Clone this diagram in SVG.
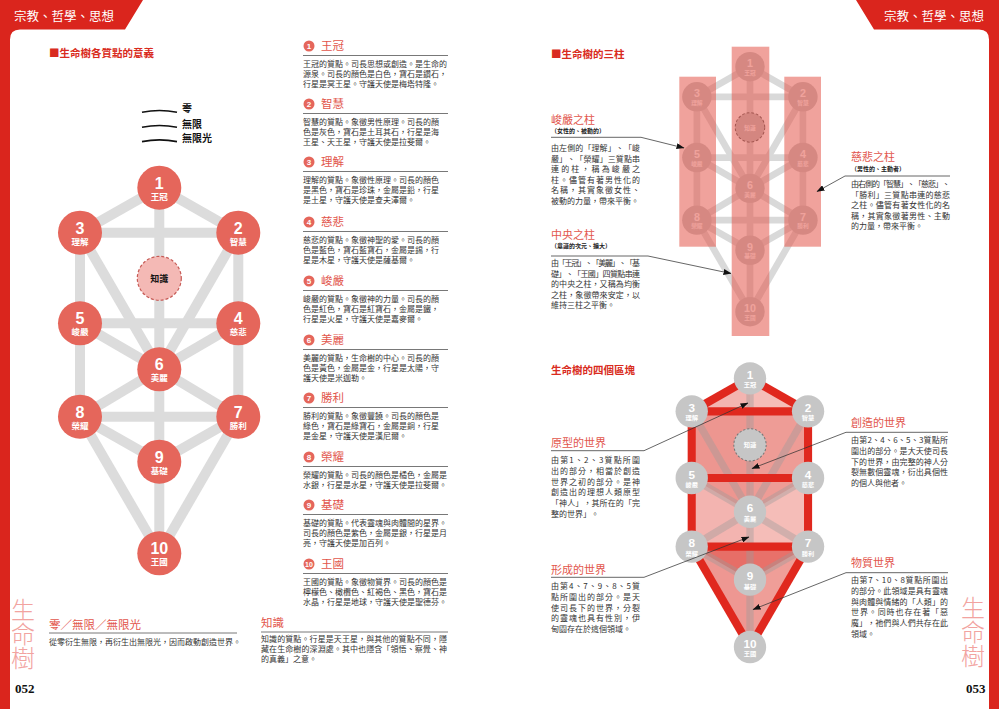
<svg xmlns="http://www.w3.org/2000/svg" width="999" height="709" viewBox="0 0 999 709">
<defs>
<style>
.cjk{font-family:'Noto Sans CJK TC','Noto Sans CJK JP',sans-serif}
.tab{font-size:12.5px;fill:#fff}
.ttl{font-size:10.5px;font-weight:700;fill:#d92b20}
.sec{font-size:11.5px;fill:#e2564c}
.rh{font-size:11px;fill:#e2564c}
.body{font-size:8px;fill:#333}
.sub{font-size:6px;font-weight:700;fill:#222}
.num{font-family:'Liberation Sans',Arial,sans-serif;font-weight:700;fill:#fff;text-anchor:middle}
.lbl{font-family:'Noto Sans CJK TC','Noto Sans CJK JP',sans-serif;font-weight:700;fill:#fff;text-anchor:middle;font-size:8.5px}
.tnum{font-size:16px}
.rule{stroke:#555;stroke-width:0.8;fill:none}
.arrow{stroke:#333;stroke-width:0.75;fill:none;marker-end:url(#ah)}
.gl line{stroke:#dcdcdc;stroke-width:10}
.gl2 line{stroke:#d9d9d9;stroke-width:10}
.inner line{stroke:#9a9a9a;stroke-opacity:0.4;stroke-width:10}
.red line{stroke:#e0281e;stroke-width:11}
.rn{fill:#e5665b}
.gn{fill:#c6c6c6}
.vert{font-size:24px;fill:#f2a3a0;font-weight:300;writing-mode:vertical-rl}
.pg{font-family:'Liberation Serif','Times New Roman',serif;font-weight:700;font-size:13px;fill:#111}
</style>
<marker id="ah" markerWidth="8" markerHeight="6" refX="7.5" refY="3" orient="auto" markerUnits="userSpaceOnUse"><path d="M0,0 L8,3 L0,6 z" fill="#111"/></marker>
</defs>
<rect width="999" height="709" fill="#fff"/>

<!-- page frame -->
<path d="M0,0 H143 L125,29.5 H20 Q10,29.5 10,39.5 V709 H0 Z" fill="#da251d"/>
<path d="M999,0 H856 L874,29.5 H979 Q989,29.5 989,39.5 V709 H999 Z" fill="#da251d"/>
<text class="cjk tab" x="14" y="20.5">宗教、哲學、思想</text>
<text class="cjk tab" x="884" y="20.5">宗教、哲學、思想</text>
<text class="cjk vert" x="23" y="598">生命樹</text>
<text class="cjk vert" x="973" y="596">生命樹</text>
<text class="pg" x="15" y="693">052</text>
<text class="pg" x="966" y="693">053</text>

<!-- left page title -->
<text class="cjk ttl" x="49" y="57">■生命樹各質點的意義</text>

<!-- legend -->
<g id="legend">
<path d="M142,112.3 Q159.5,108.8 177,112.3" stroke="#111" stroke-width="1.6" fill="none"/>
<path d="M142,127.3 Q159.5,123.8 177,127.3" stroke="#111" stroke-width="1.6" fill="none"/>
<path d="M142,141.6 Q159.5,138.1 177,141.6" stroke="#111" stroke-width="1.6" fill="none"/>
<text class="cjk" x="182" y="112" font-size="10" font-weight="700" fill="#111">零</text>
<text class="cjk" x="182" y="127.8" font-size="10" font-weight="700" fill="#111">無限</text>
<text class="cjk" x="182" y="142" font-size="10" font-weight="700" fill="#111">無限光</text>
</g>

<!-- left tree -->
<g id="tree1-connectors" class="gl">
<line x1="159.3" y1="187.7" x2="238.3" y2="232.7"/>
<line x1="159.3" y1="187.7" x2="80" y2="232.7"/>
<line x1="159.3" y1="187.7" x2="159.3" y2="369.3"/>
<line x1="80" y1="232.7" x2="238.3" y2="232.7"/>
<line x1="238.3" y1="232.7" x2="238.3" y2="323.3"/>
<line x1="80" y1="232.7" x2="80" y2="323.3"/>
<line x1="238.3" y1="232.7" x2="159.3" y2="369.3"/>
<line x1="80" y1="232.7" x2="159.3" y2="369.3"/>
<line x1="80" y1="323.3" x2="238.3" y2="323.3"/>
<line x1="238.3" y1="323.3" x2="159.3" y2="369.3"/>
<line x1="80" y1="323.3" x2="159.3" y2="369.3"/>
<line x1="238.3" y1="323.3" x2="238.3" y2="416.7"/>
<line x1="80" y1="323.3" x2="80" y2="416.7"/>
<line x1="159.3" y1="369.3" x2="238.3" y2="416.7"/>
<line x1="159.3" y1="369.3" x2="80" y2="416.7"/>
<line x1="159.3" y1="369.3" x2="159.3" y2="461.7"/>
<line x1="80" y1="416.7" x2="238.3" y2="416.7"/>
<line x1="238.3" y1="416.7" x2="159.3" y2="461.7"/>
<line x1="80" y1="416.7" x2="159.3" y2="461.7"/>
<line x1="238.3" y1="416.7" x2="159.3" y2="553.3"/>
<line x1="80" y1="416.7" x2="159.3" y2="553.3"/>
<line x1="159.3" y1="461.7" x2="159.3" y2="553.3"/>
</g>
<g id="tree1-nodes">
<g id="t1-n1" transform="translate(159.3,187.7)"><circle r="22" class="rn"/><text class="num tnum" y="0.8">1</text><text class="lbl" y="12.2">王冠</text></g>
<g id="t1-n2" transform="translate(238.3,232.7)"><circle r="22" class="rn"/><text class="num tnum" y="0.8">2</text><text class="lbl" y="12.2">智慧</text></g>
<g id="t1-n3" transform="translate(80,232.7)"><circle r="22" class="rn"/><text class="num tnum" y="0.8">3</text><text class="lbl" y="12.2">理解</text></g>
<g id="t1-k" transform="translate(159.3,278.3)"><circle r="22" fill="#f4b9b5" stroke="#c65a55" stroke-width="1.2" stroke-dasharray="3 2"/><text class="cjk" y="3.2" font-size="9" font-weight="700" fill="#111" text-anchor="middle">知識</text></g>
<g id="t1-n4" transform="translate(238.3,323.3)"><circle r="22" class="rn"/><text class="num tnum" y="0.8">4</text><text class="lbl" y="12.2">慈悲</text></g>
<g id="t1-n5" transform="translate(80,323.3)"><circle r="22" class="rn"/><text class="num tnum" y="0.8">5</text><text class="lbl" y="12.2">峻嚴</text></g>
<g id="t1-n6" transform="translate(159.3,369.3)"><circle r="22" class="rn"/><text class="num tnum" y="0.8">6</text><text class="lbl" y="12.2">美麗</text></g>
<g id="t1-n7" transform="translate(238.3,416.7)"><circle r="22" class="rn"/><text class="num tnum" y="0.8">7</text><text class="lbl" y="12.2">勝利</text></g>
<g id="t1-n8" transform="translate(80,416.7)"><circle r="22" class="rn"/><text class="num tnum" y="0.8">8</text><text class="lbl" y="12.2">榮耀</text></g>
<g id="t1-n9" transform="translate(159.3,461.7)"><circle r="22" class="rn"/><text class="num tnum" y="0.8">9</text><text class="lbl" y="12.2">基礎</text></g>
<g id="t1-n10" transform="translate(159.3,553.3)"><circle r="22" class="rn"/><text class="num tnum" y="0.8">10</text><text class="lbl" y="12.2">王國</text></g>
</g>

<!-- middle column descriptions -->
<g id="desc" class="cjk">
<g id="d1"><circle cx="309" cy="46" r="5.5" class="rn"/><text class="num" x="309" y="49" font-size="8">1</text><text class="sec" x="321" y="50.2">王冠</text><line class="rule" x1="303" y1="55.5" x2="448" y2="55.5"/>
<text class="body" x="303" y="66.5">王冠的質點。司長思想或創造。是生命的</text><text class="body" x="303" y="76.8">源泉。司長的顏色是白色，寶石是鑽石，</text><text class="body" x="303" y="87.1">行星是冥王星。守護天使是梅塔特隆。</text></g>
<g id="d2"><circle cx="309" cy="104" r="5.5" class="rn"/><text class="num" x="309" y="107" font-size="8">2</text><text class="sec" x="321" y="108.2">智慧</text><line class="rule" x1="303" y1="113.5" x2="448" y2="113.5"/>
<text class="body" x="303" y="124.5">智慧的質點。象徵男性原理。司長的顏</text><text class="body" x="303" y="134.8">色是灰色，寶石是土耳其石，行星是海</text><text class="body" x="303" y="145.1">王星、天王星，守護天使是拉斐爾。</text></g>
<g id="d3"><circle cx="309" cy="162" r="5.5" class="rn"/><text class="num" x="309" y="165" font-size="8">3</text><text class="sec" x="321" y="166.2">理解</text><line class="rule" x1="303" y1="171.5" x2="448" y2="171.5"/>
<text class="body" x="303" y="182.5">理解的質點。象徵性原理。司長的顏色</text><text class="body" x="303" y="192.8">是黑色，寶石是珍珠，金屬是鉛，行星</text><text class="body" x="303" y="203.1">是土星，守護天使是查夫澤爾。</text></g>
<g id="d4"><circle cx="309" cy="222" r="5.5" class="rn"/><text class="num" x="309" y="225" font-size="8">4</text><text class="sec" x="321" y="226.2">慈悲</text><line class="rule" x1="303" y1="231.5" x2="448" y2="231.5"/>
<text class="body" x="303" y="242.5">慈悲的質點。象徵神聖的愛。司長的顏</text><text class="body" x="303" y="252.8">色是藍色，寶石藍寶石，金屬是錫，行</text><text class="body" x="303" y="263.1">星是木星，守護天使是薩基爾。</text></g>
<g id="d5"><circle cx="309" cy="281" r="5.5" class="rn"/><text class="num" x="309" y="284" font-size="8">5</text><text class="sec" x="321" y="285.2">峻嚴</text><line class="rule" x1="303" y1="290.5" x2="448" y2="290.5"/>
<text class="body" x="303" y="301.5">峻嚴的質點。象徵神的力量。司長的顏</text><text class="body" x="303" y="311.8">色是紅色，寶石是紅寶石，金屬是鐵，</text><text class="body" x="303" y="322.1">行星是火星，守護天使是嘉麥爾。</text></g>
<g id="d6"><circle cx="309" cy="340" r="5.5" class="rn"/><text class="num" x="309" y="343" font-size="8">6</text><text class="sec" x="321" y="344.2">美麗</text><line class="rule" x1="303" y1="349.5" x2="448" y2="349.5"/>
<text class="body" x="303" y="360.5">美麗的質點，生命樹的中心。司長的顏</text><text class="body" x="303" y="370.8">色是黃色，金屬是金，行星是太陽，守</text><text class="body" x="303" y="381.1">護天使是米迦勒。</text></g>
<g id="d7"><circle cx="309" cy="398" r="5.5" class="rn"/><text class="num" x="309" y="401" font-size="8">7</text><text class="sec" x="321" y="402.2">勝利</text><line class="rule" x1="303" y1="407.5" x2="448" y2="407.5"/>
<text class="body" x="303" y="418.5">勝利的質點。象徵豐饒。司長的顏色是</text><text class="body" x="303" y="428.8">綠色，寶石是綠寶石，金屬是銅，行星</text><text class="body" x="303" y="439.1">是金星，守護天使是漢尼爾。</text></g>
<g id="d8"><circle cx="309" cy="457" r="5.5" class="rn"/><text class="num" x="309" y="460" font-size="8">8</text><text class="sec" x="321" y="461.2">榮耀</text><line class="rule" x1="303" y1="466.5" x2="448" y2="466.5"/>
<text class="body" x="303" y="477.5">榮耀的質點。司長的顏色是橘色，金屬是</text><text class="body" x="303" y="487.8">水銀，行星是水星，守護天使是拉斐爾。</text></g>
<g id="d9"><circle cx="309" cy="505" r="5.5" class="rn"/><text class="num" x="309" y="508" font-size="8">9</text><text class="sec" x="321" y="509.2">基礎</text><line class="rule" x1="303" y1="514.5" x2="448" y2="514.5"/>
<text class="body" x="303" y="525.5">基礎的質點。代表靈魂與肉體間的星界。</text><text class="body" x="303" y="535.8">司長的顏色是紫色，金屬是銀，行星是月</text><text class="body" x="303" y="546.1">亮，守護天使是加百列。</text></g>
<g id="d10"><circle cx="309" cy="564" r="5.5" class="rn"/><text class="num" x="309" y="566.8" font-size="7">10</text><text class="sec" x="321" y="568.2">王國</text><line class="rule" x1="303" y1="573.5" x2="448" y2="573.5"/>
<text class="body" x="303" y="584.5">王國的質點。象徵物質界。司長的顏色是</text><text class="body" x="303" y="594.8">檸檬色、橄欖色、紅褐色、黑色，寶石是</text><text class="body" x="303" y="605.1">水晶，行星是地球，守護天使是聖德芬。</text></g>
<g id="dk"><text class="sec" x="261" y="627.2">知識</text><line class="rule" x1="261" y1="632" x2="448" y2="632"/>
<text class="body" x="261" y="641.5" textLength="186" lengthAdjust="spacing">知識的質點。行星是天王星，與其他的質點不同，隱</text><text class="body" x="261" y="651.8" textLength="186" lengthAdjust="spacing">藏在生命樹的深淵處。其中也隱含「領悟、察覺、神</text><text class="body" x="261" y="662.1">的真義」之意。</text></g>
<g id="d0"><text class="sec" x="49" y="629.3" font-size="12.5">零／無限／無限光</text><line class="rule" x1="49" y1="633" x2="237" y2="633"/>
<text class="body" x="49" y="645" font-size="7.5">從零衍生無限，再衍生出無限光，因而啟動創造世界。</text></g>
</g>

<!-- right page: three pillars -->
<text class="cjk ttl" x="551" y="58">■生命樹的三柱</text>
<g id="tree2" transform="translate(643.27,-59.06) scale(0.67)">
<g id="tree2-connectors" class="gl2">
<line x1="159.3" y1="187.7" x2="238.3" y2="232.7"/>
<line x1="159.3" y1="187.7" x2="80" y2="232.7"/>
<line x1="159.3" y1="187.7" x2="159.3" y2="369.3"/>
<line x1="80" y1="232.7" x2="238.3" y2="232.7"/>
<line x1="238.3" y1="232.7" x2="238.3" y2="323.3"/>
<line x1="80" y1="232.7" x2="80" y2="323.3"/>
<line x1="238.3" y1="232.7" x2="159.3" y2="369.3"/>
<line x1="80" y1="232.7" x2="159.3" y2="369.3"/>
<line x1="80" y1="323.3" x2="238.3" y2="323.3"/>
<line x1="238.3" y1="323.3" x2="159.3" y2="369.3"/>
<line x1="80" y1="323.3" x2="159.3" y2="369.3"/>
<line x1="238.3" y1="323.3" x2="238.3" y2="416.7"/>
<line x1="80" y1="323.3" x2="80" y2="416.7"/>
<line x1="159.3" y1="369.3" x2="238.3" y2="416.7"/>
<line x1="159.3" y1="369.3" x2="80" y2="416.7"/>
<line x1="159.3" y1="369.3" x2="159.3" y2="461.7"/>
<line x1="80" y1="416.7" x2="238.3" y2="416.7"/>
<line x1="238.3" y1="416.7" x2="159.3" y2="461.7"/>
<line x1="80" y1="416.7" x2="159.3" y2="461.7"/>
<line x1="238.3" y1="416.7" x2="159.3" y2="553.3"/>
<line x1="80" y1="416.7" x2="159.3" y2="553.3"/>
<line x1="159.3" y1="461.7" x2="159.3" y2="553.3"/>
</g>
<g id="tree2-nodes">
<g id="t2-n1" transform="translate(159.3,187.7)"><circle r="22" class="gn"/><text class="num tnum" y="0.8">1</text><text class="lbl" y="12.2">王冠</text></g>
<g id="t2-n2" transform="translate(238.3,232.7)"><circle r="22" class="gn"/><text class="num tnum" y="0.8">2</text><text class="lbl" y="12.2">智慧</text></g>
<g id="t2-n3" transform="translate(80,232.7)"><circle r="22" class="gn"/><text class="num tnum" y="0.8">3</text><text class="lbl" y="12.2">理解</text></g>
<g id="t2-k" transform="translate(159.3,278.3)"><circle r="22" fill="#c2c2c2" stroke="#555" stroke-width="1.5" stroke-dasharray="4 3"/><text class="lbl" y="3.2">知識</text></g>
<g id="t2-n4" transform="translate(238.3,323.3)"><circle r="22" class="gn"/><text class="num tnum" y="0.8">4</text><text class="lbl" y="12.2">慈悲</text></g>
<g id="t2-n5" transform="translate(80,323.3)"><circle r="22" class="gn"/><text class="num tnum" y="0.8">5</text><text class="lbl" y="12.2">峻嚴</text></g>
<g id="t2-n6" transform="translate(159.3,369.3)"><circle r="22" class="gn"/><text class="num tnum" y="0.8">6</text><text class="lbl" y="12.2">美麗</text></g>
<g id="t2-n7" transform="translate(238.3,416.7)"><circle r="22" class="gn"/><text class="num tnum" y="0.8">7</text><text class="lbl" y="12.2">勝利</text></g>
<g id="t2-n8" transform="translate(80,416.7)"><circle r="22" class="gn"/><text class="num tnum" y="0.8">8</text><text class="lbl" y="12.2">榮耀</text></g>
<g id="t2-n9" transform="translate(159.3,461.7)"><circle r="22" class="gn"/><text class="num tnum" y="0.8">9</text><text class="lbl" y="12.2">基礎</text></g>
<g id="t2-n10" transform="translate(159.3,553.3)"><circle r="22" class="gn"/><text class="num tnum" y="0.8">10</text><text class="lbl" y="12.2">王國</text></g>
</g>
</g>
<g id="pillars" fill="#e4554b" fill-opacity="0.55">
<rect id="pillar-left" x="679.3" y="76.7" width="36.7" height="170"/>
<rect id="pillar-center" x="731.7" y="46.7" width="37.6" height="289.3"/>
<rect id="pillar-right" x="784.3" y="76.7" width="36.7" height="170"/>
</g>

<g id="pillar-texts" class="cjk">
<g id="txt-severity"><text class="rh" x="551" y="124">峻嚴之柱</text><text class="sub" x="551" y="133.2">（女性的、被動的）</text>
<text class="body" x="551" y="151" textLength="89" lengthAdjust="spacing">由左側的「理解」、「峻</text>
<text class="body" x="551" y="161.5" textLength="89" lengthAdjust="spacing">嚴」、「榮耀」三質點串</text>
<text class="body" x="551" y="172" textLength="89" lengthAdjust="spacing">連的柱，稱為峻嚴之</text>
<text class="body" x="551" y="182.5" textLength="89" lengthAdjust="spacing">柱。儘管有著男性化的</text>
<text class="body" x="551" y="193" textLength="89" lengthAdjust="spacing">名稱，其實象徵女性、</text>
<text class="body" x="551" y="203.5">被動的力量，帶來平衡。</text></g>
<g id="txt-middle"><text class="rh" x="551" y="239">中央之柱</text><text class="sub" x="551" y="248.2">（意識的次元、擴大）</text>
<text class="body" x="551" y="266" textLength="89" lengthAdjust="spacing">由「王冠」、「美麗」、「基</text>
<text class="body" x="551" y="276.5" textLength="89" lengthAdjust="spacing">礎」、「王國」四質點串連</text>
<text class="body" x="551" y="287" textLength="89" lengthAdjust="spacing">的中央之柱，又稱為均衡</text>
<text class="body" x="551" y="297.5" textLength="89" lengthAdjust="spacing">之柱，象徵帶來安定，以</text>
<text class="body" x="551" y="308">維持三柱之平衡。</text></g>
<g id="txt-mercy"><text class="rh" x="851" y="161">慈悲之柱</text><text class="sub" x="851" y="171.2">（男性的、主動者）</text>
<text class="body" x="851" y="187" textLength="99" lengthAdjust="spacing">由右側的「智慧」、「慈悲」、</text>
<text class="body" x="851" y="197.5" textLength="99" lengthAdjust="spacing">「勝利」三質點串連的慈悲</text>
<text class="body" x="851" y="208" textLength="99" lengthAdjust="spacing">之柱。儘管有著女性化的名</text>
<text class="body" x="851" y="218.5" textLength="99" lengthAdjust="spacing">稱，其實象徵著男性、主動</text>
<text class="body" x="851" y="229">的力量，帶來平衡。</text></g>
</g>

<!-- right page: four worlds -->
<text class="cjk ttl" x="551" y="373.7">生命樹的四個區塊</text>
<g id="tree3" transform="translate(632.91,240.34) scale(0.735)">
<g id="regions">
<polygon id="region-outline" points="159.3,187.7 238.3,232.7 238.3,416.7 159.3,553.3 80,416.7 80,232.7" fill="#f5bdb8"/>
<polygon id="region-creation" points="80,232.7 238.3,232.7 238.3,323.3 159.3,369.3 80,323.3" fill="#ee9c96"/>
<polygon id="region-material" points="80,416.7 238.3,416.7 159.3,553.3" fill="#ef9e98"/>
<polygon id="region-dark" points="80,416.7 238.3,416.7 159.3,461.7" fill="#e8716a"/>
<polygon points="159.3,187.7 80,232.7 80,416.7 159.3,553.3" fill="#e04a40" fill-opacity="0.07"/>
</g>
<g id="tree3-connectors">
<g class="inner">
<line x1="159.3" y1="187.7" x2="159.3" y2="369.3"/>
<line x1="238.3" y1="232.7" x2="159.3" y2="369.3"/>
<line x1="80" y1="232.7" x2="159.3" y2="369.3"/>
<line x1="238.3" y1="323.3" x2="159.3" y2="369.3"/>
<line x1="80" y1="323.3" x2="159.3" y2="369.3"/>
<line x1="159.3" y1="369.3" x2="238.3" y2="416.7"/>
<line x1="159.3" y1="369.3" x2="80" y2="416.7"/>
<line x1="159.3" y1="369.3" x2="159.3" y2="461.7"/>
<line x1="238.3" y1="416.7" x2="159.3" y2="461.7"/>
<line x1="80" y1="416.7" x2="159.3" y2="461.7"/>
<line x1="159.3" y1="461.7" x2="159.3" y2="553.3"/>
</g>
<g class="red">
<line x1="159.3" y1="187.7" x2="238.3" y2="232.7"/>
<line x1="159.3" y1="187.7" x2="80" y2="232.7"/>
<line x1="80" y1="232.7" x2="238.3" y2="232.7"/>
<line x1="238.3" y1="232.7" x2="238.3" y2="416.7"/>
<line x1="80" y1="232.7" x2="80" y2="416.7"/>
<line x1="80" y1="323.3" x2="238.3" y2="323.3"/>
<line x1="80" y1="416.7" x2="238.3" y2="416.7"/>
<line x1="238.3" y1="416.7" x2="159.3" y2="553.3"/>
<line x1="80" y1="416.7" x2="159.3" y2="553.3"/>
</g>
</g>
<g id="tree3-nodes">
<g id="t3-n1" transform="translate(159.3,187.7)"><circle r="22" class="gn"/><text class="num tnum" y="0.8">1</text><text class="lbl" y="12.2">王冠</text></g>
<g id="t3-n2" transform="translate(238.3,232.7)"><circle r="22" class="gn"/><text class="num tnum" y="0.8">2</text><text class="lbl" y="12.2">智慧</text></g>
<g id="t3-n3" transform="translate(80,232.7)"><circle r="22" class="gn"/><text class="num tnum" y="0.8">3</text><text class="lbl" y="12.2">理解</text></g>
<g id="t3-k" transform="translate(159.3,278.3)"><circle r="22" fill="#c6c6c6" stroke="#777" stroke-width="1.4" stroke-dasharray="3 2.5"/><text class="lbl" y="3.2">知識</text></g>
<g id="t3-n4" transform="translate(238.3,323.3)"><circle r="22" class="gn"/><text class="num tnum" y="0.8">4</text><text class="lbl" y="12.2">慈悲</text></g>
<g id="t3-n5" transform="translate(80,323.3)"><circle r="22" class="gn"/><text class="num tnum" y="0.8">5</text><text class="lbl" y="12.2">峻嚴</text></g>
<g id="t3-n6" transform="translate(159.3,369.3)"><circle r="22" class="gn"/><text class="num tnum" y="0.8">6</text><text class="lbl" y="12.2">美麗</text></g>
<g id="t3-n7" transform="translate(238.3,416.7)"><circle r="22" class="gn"/><text class="num tnum" y="0.8">7</text><text class="lbl" y="12.2">勝利</text></g>
<g id="t3-n8" transform="translate(80,416.7)"><circle r="22" class="gn"/><text class="num tnum" y="0.8">8</text><text class="lbl" y="12.2">榮耀</text></g>
<g id="t3-n9" transform="translate(159.3,461.7)"><circle r="22" class="gn"/><text class="num tnum" y="0.8">9</text><text class="lbl" y="12.2">基礎</text></g>
<g id="t3-n10" transform="translate(159.3,553.3)"><circle r="22" class="gn"/><text class="num tnum" y="0.8">10</text><text class="lbl" y="12.2">王國</text></g>
</g>
</g>

<g id="world-texts" class="cjk">
<g id="txt-archetype"><text class="rh" x="551" y="447.3">原型的世界</text>
<text class="body" x="551" y="463" textLength="89" lengthAdjust="spacing">由第1、2、3質點所圍</text>
<text class="body" x="551" y="473.8" textLength="89" lengthAdjust="spacing">出的部分，相當於創造</text>
<text class="body" x="551" y="484.6" textLength="89" lengthAdjust="spacing">世界之初的部分。是神</text>
<text class="body" x="551" y="495.4" textLength="89" lengthAdjust="spacing">創造出的理想人類原型</text>
<text class="body" x="551" y="506.2" textLength="89" lengthAdjust="spacing">「神人」，其所在的「完</text>
<text class="body" x="551" y="517">整的世界」。</text></g>
<g id="txt-formation"><text class="rh" x="551" y="574">形成的世界</text>
<text class="body" x="551" y="589" textLength="89" lengthAdjust="spacing">由第4、7、9、8、5質</text>
<text class="body" x="551" y="599.8" textLength="89" lengthAdjust="spacing">點所圍出的部分。是天</text>
<text class="body" x="551" y="610.6" textLength="89" lengthAdjust="spacing">使司長下的世界，分裂</text>
<text class="body" x="551" y="621.4" textLength="89" lengthAdjust="spacing">的靈魂也具有性別，伊</text>
<text class="body" x="551" y="632.2">甸園存在於這個領域。</text></g>
<g id="txt-creation"><text class="rh" x="851" y="426.7">創造的世界</text>
<text class="body" x="851" y="443" textLength="97" lengthAdjust="spacing">由第2、4、6、5、3質點所</text>
<text class="body" x="851" y="453.8" textLength="97" lengthAdjust="spacing">圍出的部分。是大天使司長</text>
<text class="body" x="851" y="464.6" textLength="97" lengthAdjust="spacing">下的世界，由完整的神人分</text>
<text class="body" x="851" y="475.4" textLength="97" lengthAdjust="spacing">裂無數個靈魂，衍出具個性</text>
<text class="body" x="851" y="486.2">的個人與他者。</text></g>
<g id="txt-material"><text class="rh" x="851" y="567.3">物質世界</text>
<text class="body" x="851" y="583" textLength="97" lengthAdjust="spacing">由第7、10、8質點所圍出</text>
<text class="body" x="851" y="593.8" textLength="97" lengthAdjust="spacing">的部分。此領域是具有靈魂</text>
<text class="body" x="851" y="604.6" textLength="97" lengthAdjust="spacing">與肉體與情緒的「人類」的</text>
<text class="body" x="851" y="615.4" textLength="97" lengthAdjust="spacing">世界。同時也存在著「惡</text>
<text class="body" x="851" y="626.2" textLength="97" lengthAdjust="spacing">魔」，祂們與人們共存在此</text>
<text class="body" x="851" y="637">領域。</text></g>
</g>

<g id="callouts">
<path class="arrow" d="M551,137.3 H641 L684,148"/>
<path class="arrow" d="M551,256 H648 L731,273.5"/>
<path class="arrow" d="M950,176 H845 L817,191.5"/>
<path class="arrow" d="M551,450.7 H644 L748,403"/>
<path class="arrow" d="M551,577.3 H644 L749,537"/>
<path class="arrow" d="M948,432.3 H846 L752,468.5"/>
<path class="arrow" d="M948,572.7 H846 L753,609.5"/>
</g>
</svg>
